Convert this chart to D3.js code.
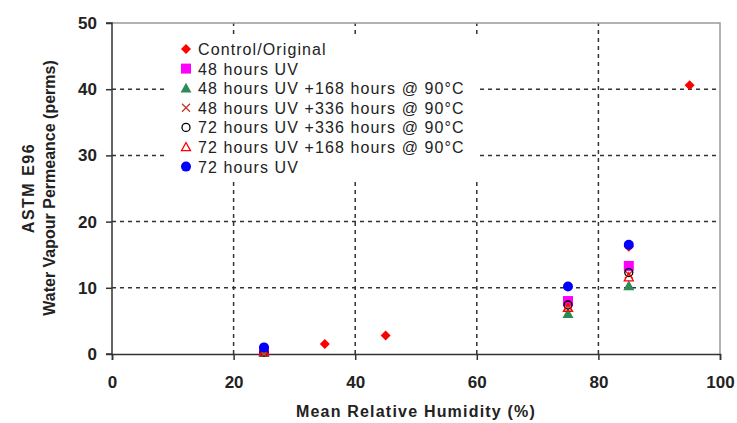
<!DOCTYPE html>
<html>
<head>
<meta charset="utf-8">
<script src="https://cdn.jsdelivr.net/npm/d3@7"></script>
<style>
  body { margin: 0; background: #fff; }
  text { font-family: "Liberation Sans", Arial, sans-serif; }
</style>
</head>
<body>
<script>
// series, one small array per series (x = mean RH %, y = perms)
const seriesNames = [
  "Control/Original",
  "48 hours UV",
  "48 hours UV +168 hours @ 90°C",
  "48 hours UV +336 hours @ 90°C",
  "72 hours UV +336 hours @ 90°C",
  "72 hours UV +168 hours @ 90°C",
  "72 hours UV"
];
const controlOriginal = [[35, 1.5], [45, 2.8], [85, 16.2], [95, 40.6]];
const uv48 = [[25, 0.4], [75, 8.0], [85, 13.3]];
const uv48h168 = [[25, 0.2], [75, 6.1], [85, 10.3]];
const uv48h336 = [[25, 0.3], [75, 7.2], [85, 12.0]];
const uv72h336 = [[25, 0.3], [75, 7.4], [85, 12.3]];
const uv72h168 = [[25, 0.3], [75, 7.0], [85, 11.6]];
const uv72 = [[25, 1.0], [75, 10.2], [85, 16.5]];
const xTicks = [0, 20, 40, 60, 80, 100];
const yTicks = [0, 10, 20, 30, 40, 50];

const allSeries = [controlOriginal, uv48, uv48h168, uv48h336, uv72h336, uv72h168, uv72];
const styles = [
  {type: "diamond", fill: "#ff0000", stroke: "none"},
  {type: "square", fill: "#ff00ff", stroke: "none"},
  {type: "triangle", fill: "#2e8b57", stroke: "none"},
  {type: "cross", fill: "none", stroke: "#c0392b"},
  {type: "circle", fill: "none", stroke: "#000"},
  {type: "triangle", fill: "none", stroke: "#ff0000"},
  {type: "circle", fill: "#0000ff", stroke: "none"}
];

const W = 737, H = 423;
const svg = d3.select("body").append("svg").attr("width", W).attr("height", H);

const x = d3.scaleLinear().domain([0, 100]).range([112, 720]);
const y = d3.scaleLinear().domain([0, 50]).range([354, 23]);

// gridlines
const g = svg.append("g");
g.selectAll(".hg").data(yTicks.filter(d => d > 0 && d < 50)).enter().append("line")
  .attr("x1", x(0)).attr("x2", x(100))
  .attr("y1", d => y(d)).attr("y2", d => y(d))
  .attr("stroke", "#333").attr("stroke-width", 1.5).attr("stroke-dasharray", "4,4");
g.selectAll(".vg").data(xTicks.filter(d => d > 0 && d < 100)).enter().append("line")
  .attr("x1", d => x(d)).attr("x2", d => x(d))
  .attr("y1", y(0)).attr("y2", y(50))
  .attr("stroke", "#333").attr("stroke-width", 1.5).attr("stroke-dasharray", "4,4");

// grey frame top & right
svg.append("path")
  .attr("d", `M${x(0)},${y(50)}H${x(100)}V${y(0)}`)
  .attr("fill", "none").attr("stroke", "#999").attr("stroke-width", 1.5);

// axes
const xAxis = svg.append("g").attr("transform", `translate(0,${y(0)})`)
  .call(d3.axisBottom(x).tickValues(xTicks).tickSize(6).tickPadding(16));
const yAxis = svg.append("g").attr("transform", `translate(${x(0)},0)`)
  .call(d3.axisLeft(y).tickValues(yTicks).tickSize(6).tickPadding(9));
[xAxis, yAxis].forEach(a => {
  a.select(".domain").attr("stroke", "#333").attr("stroke-width", 1.5);
  a.selectAll(".tick line").attr("stroke", "#333").attr("stroke-width", 1.5);
  a.selectAll("text").attr("font-size", 17).attr("font-weight", "bold")
    .attr("fill", "#222").style("font-family", "Liberation Sans, Arial, sans-serif");
});
yAxis.select(".domain").attr("d", `M-6,${y(0)}H0V${y(50)}H-6`);

function marker(sel, st) {
  const s = 5;
  if (st.type === "diamond") sel.append("path").attr("d", `M0,${-s}L${s},0L0,${s}L${-s},0Z`);
  else if (st.type === "square") sel.append("rect").attr("x", -s).attr("y", -s).attr("width", 2 * s).attr("height", 2 * s);
  else if (st.type === "triangle") {
    const r = st.fill === "none" ? 4.5 : 5.5;
    sel.append("path").attr("d", `M0,${-r}L${r},${r * 0.8}L${-r},${r * 0.8}Z`);
  }
  else if (st.type === "cross") sel.append("path").attr("d", "M-4,-4L4,4M-4,4L4,-4");
  else if (st.type === "circle") sel.append("circle").attr("r", st.fill === "none" ? 4 : 5);
  sel.selectAll("*").attr("fill", st.fill).attr("stroke", st.stroke)
    .attr("stroke-width", st.stroke === "none" ? 0 : 1.3);
}

// points
allSeries.forEach((data, i) => {
  svg.append("g").selectAll("g").data(data).enter().append("g")
    .attr("transform", d => `translate(${x(d[0])},${y(d[1])})`)
    .each(function () { marker(d3.select(this), styles[i]); });
});

// legend
const leg = svg.append("g");
leg.append("rect").attr("x", 168).attr("y", 37).attr("width", 312).attr("height", 142).attr("fill", "#fff");
seriesNames.forEach((name, i) => {
  const row = leg.append("g").attr("transform", `translate(186,${49 + i * 19.6})`);
  marker(row.append("g"), styles[i]);
  row.append("text").attr("x", 12).attr("y", 6).attr("font-size", 16)
    .attr("letter-spacing", 1.1).attr("fill", "#222").text(name);
});

// axis titles
svg.append("text").attr("x", x(50)).attr("y", 417).attr("text-anchor", "middle")
  .attr("font-size", 16).attr("font-weight", "bold").attr("letter-spacing", 1.2).attr("fill", "#222")
  .text("Mean Relative Humidity (%)");
const yt = svg.append("text").attr("transform", "translate(0,188) rotate(-90)")
  .attr("text-anchor", "middle").attr("font-size", 16).attr("font-weight", "bold").attr("fill", "#222");
yt.append("tspan").attr("x", 0).attr("y", 34).attr("letter-spacing", 1.5).text("ASTM E96");
yt.append("tspan").attr("x", 0).attr("y", 55).text("Water Vapour Permeance (perms)");
</script>
</body>
</html>
